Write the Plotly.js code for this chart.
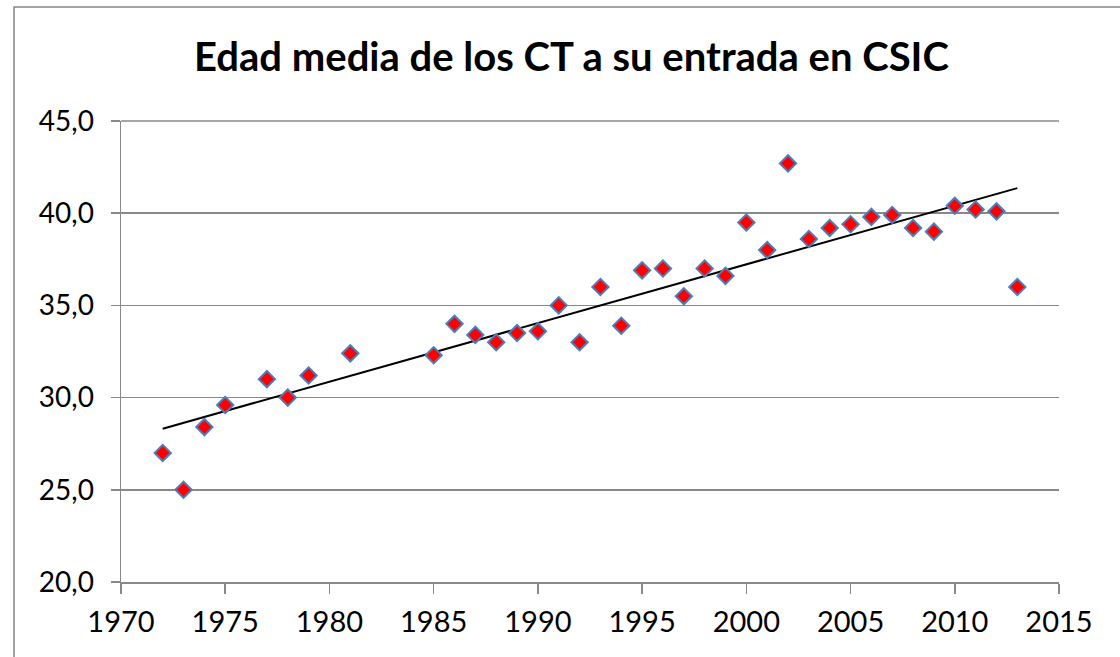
<!DOCTYPE html>
<html>
<head>
<meta charset="utf-8">
<script src="https://cdn.plot.ly/plotly-3.0.1.min.js"></script>
<style>
  html, body { margin: 0; padding: 0; background: #ffffff; }
  #chart { width: 1120px; height: 657px; }
</style>
</head>
<body>
<div id="chart"></div>
<script>
// Data
const years = [1972, 1973, 1974, 1975, 1977, 1978, 1979, 1981, 1985, 1986, 1987, 1988,
               1989, 1990, 1991, 1992, 1993, 1994, 1995, 1996, 1997, 1998, 1999, 2000,
               2001, 2002, 2003, 2004, 2005, 2006, 2007, 2008, 2009, 2010, 2011, 2012, 2013];
const edadMedia = [27.0, 25.0, 28.4, 29.6, 31.0, 30.0, 31.2, 32.4, 32.3, 34.0, 33.4, 33.0,
                   33.5, 33.6, 35.0, 33.0, 36.0, 33.9, 36.9, 37.0, 35.5, 37.0, 36.6, 39.5,
                   38.0, 42.7, 38.6, 39.2, 39.4, 39.8, 39.9, 39.2, 39.0, 40.4, 40.2, 40.1, 36.0];
const yTicks = [20, 25, 30, 35, 40, 45];
const xTicks = [1970, 1975, 1980, 1985, 1990, 1995, 2000, 2005, 2010, 2015];
const titleText = 'Edad media de los CT a su entrada en CSIC';

// Linear least-squares trendline (as Excel's linear trendline)
const n = years.length;
const mx = years.reduce((a, b) => a + b, 0) / n;
const my = edadMedia.reduce((a, b) => a + b, 0) / n;
let sxy = 0, sxx = 0;
for (let i = 0; i < n; i++) { sxy += (years[i] - mx) * (edadMedia[i] - my); sxx += (years[i] - mx) ** 2; }
const slope = sxy / sxx;
const intercept = my - slope * mx;
const trendX = [Math.min(...years), Math.max(...years)];
const trendY = trendX.map(x => intercept + slope * x);

const gridColor = '#898989';
const font = 'Lato, Carlito, "Open Sans", sans-serif';

const traces = [
  {
    x: trendX, y: trendY, type: 'scatter', mode: 'lines',
    line: { color: '#000000', width: 2 }, hoverinfo: 'skip', showlegend: false
  },
  {
    x: years, y: edadMedia, type: 'scatter', mode: 'markers',
    marker: { symbol: 'diamond', size: 12.5, color: '#ff0000', line: { color: '#4a7ebb', width: 2 } },
    showlegend: false, cliponaxis: false
  }
];

const layout = {
  width: 1120, height: 657,
  paper_bgcolor: '#ffffff', plot_bgcolor: '#ffffff',
  separators: ',.',
  margin: { l: 121, r: 61, t: 121, b: 75, pad: 0 },
  showlegend: false,
  title: {
    text: '<b>' + titleText + '</b>',
    font: { family: font, size: 40, color: '#000000' },
    x: 571.5 / 1120, xref: 'container', xanchor: 'center',
    y: 1 - 57 / 657, yref: 'container', yanchor: 'middle'
  },
  xaxis: {
    range: [1970, 2015], tickvals: xTicks, ticktext: xTicks.map(String),
    showgrid: false, zeroline: false,
    showline: true, linecolor: gridColor, linewidth: 1.5,
    ticks: 'outside', ticklen: 10, tickwidth: 1.5, tickcolor: gridColor,
    ticklabelstandoff: 4,
    tickfont: { family: font, size: 29, color: '#000000' }
  },
  yaxis: {
    range: [20, 45], tickvals: yTicks, ticktext: yTicks.map(v => v.toFixed(1).replace('.', ',')),
    showgrid: true, gridcolor: gridColor, gridwidth: 1.5, zeroline: false,
    showline: true, linecolor: gridColor, linewidth: 1.5,
    ticks: 'outside', ticklen: 9, tickwidth: 1.5, tickcolor: gridColor,
    ticklabelstandoff: 11,
    tickfont: { family: font, size: 28, color: '#000000' }
  },
  shapes: [
    {
      type: 'rect', xref: 'paper', yref: 'paper',
      x0: (14 - 121) / 938, x1: (1130 - 121) / 938,
      y0: (582 - 670) / 461, y1: (582 - 7) / 461,
      line: { color: '#868686', width: 1.5 }, fillcolor: 'rgba(0,0,0,0)', layer: 'below'
    },
    {
      type: 'line', xref: 'paper', yref: 'paper', x0: 0, x1: 1, y0: 1, y1: 1,
      line: { color: gridColor, width: 1.5 }
    }
  ]
};

Plotly.newPlot('chart', traces, layout, { displayModeBar: false, staticPlot: true });
</script>
</body>
</html>
